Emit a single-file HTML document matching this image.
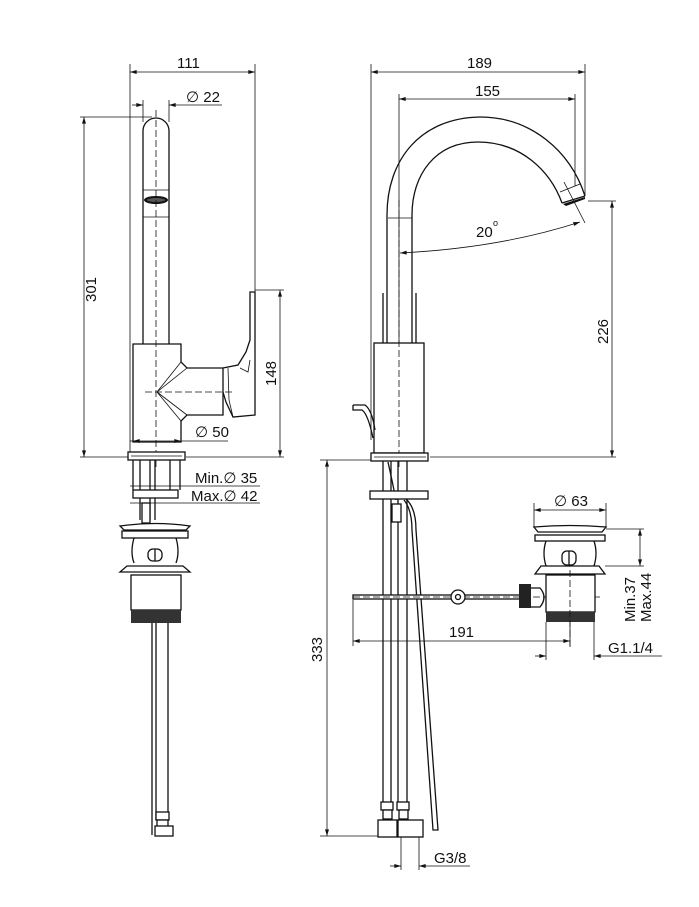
<!DOCTYPE html>
<html><head><meta charset="utf-8"><style>
html,body{margin:0;padding:0;background:#fff;}
svg{display:block}
text{font-family:"Liberation Sans",sans-serif;font-size:15px;fill:#111}
.l{stroke:#111;stroke-width:1.3;fill:none}
.t{stroke:#111;stroke-width:0.8;fill:none}
.d{stroke:#111;stroke-width:0.8;fill:none;stroke-dasharray:7 3}
.f{stroke:#111;stroke-width:1.3;fill:#fff}
</style></head><body>
<svg width="699" height="907" viewBox="0 0 699 907" xmlns="http://www.w3.org/2000/svg">
<defs>
<marker id="a" viewBox="0 0 10 6" refX="10" refY="3" markerWidth="9" markerHeight="5" orient="auto-start-reverse"><path d="M0,0 L10,3 L0,6 z" fill="#111"/></marker>
</defs>

<!-- ========== LEFT VIEW ========== -->
<line class="t" x1="130" y1="64" x2="130" y2="460"/>
<line class="t" x1="255" y1="64" x2="255" y2="292"/>
<line class="t" x1="130" y1="72" x2="255" y2="72" marker-start="url(#a)" marker-end="url(#a)"/>
<text x="177" y="68">111</text>
<line class="t" x1="143" y1="100" x2="143" y2="122"/>
<line class="t" x1="169" y1="100" x2="169" y2="122"/>
<line class="t" x1="132" y1="105" x2="143" y2="105" marker-end="url(#a)"/>
<line class="t" x1="169" y1="105" x2="222" y2="105" marker-start="url(#a)"/>
<text x="186" y="102">∅ 22</text>
<line class="t" x1="80" y1="117" x2="152" y2="117"/>
<line class="t" x1="80" y1="457" x2="130" y2="457"/>
<line class="t" x1="84" y1="117" x2="84" y2="457" marker-start="url(#a)" marker-end="url(#a)"/>
<text transform="translate(96,302) rotate(-90)">301</text>
<path class="l" d="M143,344 L143,131 A13,13 0 0 1 169,131 L169,344"/>
<line class="t" x1="143" y1="190" x2="169" y2="190"/>
<line class="t" x1="143" y1="217" x2="169" y2="217"/>
<ellipse cx="156" cy="200" rx="12" ry="4" fill="#111"/>
<ellipse cx="156" cy="200" rx="9" ry="2" fill="#555"/>
<line class="d" x1="156" y1="110" x2="156" y2="470"/>
<path class="l" d="M133,344 L181,344 L181,362 L187,368 L223,368 L223,415 L187,415 L181,421 L181,442 L133,442 Z"/>
<path class="t" d="M157,392 L181,362 M157,392 L187,368 M157,392 L181,421 M157,392 L187,415"/>
<line class="d" x1="145" y1="392" x2="232" y2="392"/>
<path class="l" d="M223,368 L238,365 L246,352 L250,340 L250,292 L255,292 L255,415 L233,417 L226,402 L223,392"/>
<path class="t" d="M228,368 L229,400 L233,417"/>
<path class="t" d="M240,368 L248,372 L250,360"/>
<line class="t" x1="255" y1="290" x2="284" y2="290"/>
<line class="t" x1="186" y1="457" x2="284" y2="457"/>
<line class="t" x1="280" y1="290" x2="280" y2="457" marker-start="url(#a)" marker-end="url(#a)"/>
<text transform="translate(276,386) rotate(-90)">148</text>
<line class="t" x1="130" y1="441" x2="133" y2="441"/>
<line class="t" x1="133" y1="441" x2="181" y2="441" marker-start="url(#a)" marker-end="url(#a)"/>
<line class="t" x1="181" y1="441" x2="228" y2="441"/>
<text x="195" y="437">∅ 50</text>
<rect class="f" x="128" y="452" width="57" height="8"/>
<line class="t" x1="131" y1="456" x2="182" y2="456"/>
<line class="l" x1="133" y1="460" x2="133" y2="490"/>
<line class="l" x1="180" y1="460" x2="180" y2="490"/>
<line class="l" x1="140" y1="460" x2="140" y2="520"/>
<line class="l" x1="150" y1="460" x2="150" y2="520"/>
<line class="l" x1="155" y1="460" x2="155" y2="520"/>
<line class="l" x1="170" y1="460" x2="170" y2="490"/>
<rect class="f" x="133" y="490" width="45" height="8"/>
<rect class="f" x="142" y="503" width="8" height="20"/>
<line class="t" x1="130" y1="486" x2="260" y2="486"/>
<line class="t" x1="130" y1="503" x2="260" y2="503"/>
<text x="195" y="483">Min.∅ 35</text>
<text x="191" y="501">Max.∅ 42</text>
<path class="f" d="M120,526 Q155,521 190,526 L186,530 L124,530 Z"/>
<rect class="f" x="122" y="531" width="66" height="7"/>
<path class="l" d="M134,538 Q130,552 134,563 M176,538 Q180,552 176,563"/>
<rect x="148" y="549" width="14" height="12" rx="5" class="l"/>
<line class="l" x1="155" y1="549" x2="155" y2="561"/>
<path class="f" d="M127,566 L183,566 L190,572 L120,572 Z"/>
<rect class="f" x="131" y="575" width="50" height="35"/>
<rect x="131" y="610" width="50" height="13" fill="#333"/>
<line class="l" x1="152" y1="623" x2="152" y2="835"/>
<line class="l" x1="156" y1="623" x2="156" y2="820"/>
<line class="l" x1="168" y1="623" x2="168" y2="820"/>
<rect class="f" x="156" y="812" width="13" height="8"/>
<rect class="f" x="157" y="820" width="11" height="8"/>
<rect class="f" x="155" y="826" width="18" height="10"/>

<!-- ========== RIGHT VIEW ========== -->
<line class="t" x1="371" y1="64" x2="371" y2="440"/>
<line class="t" x1="585" y1="64" x2="585" y2="196"/>
<line class="t" x1="371" y1="72" x2="585" y2="72" marker-start="url(#a)" marker-end="url(#a)"/>
<text x="467" y="68">189</text>
<line class="t" x1="399" y1="94" x2="399" y2="450"/>
<line class="t" x1="575" y1="94" x2="575" y2="186"/>
<line class="t" x1="399" y1="99" x2="575" y2="99" marker-start="url(#a)" marker-end="url(#a)"/>
<text x="475" y="96">155</text>
<path class="l" d="M387,343 L387,215 C387,160 420,118 480,117 C530,117 570,150 585,196"/>
<path class="l" d="M412,343 L412,215 C412,175 435,142 478,142 C520,142 550,170 562,203"/>
<path class="l" d="M562,203 L585,196"/>
<line class="t" x1="388" y1="218" x2="412" y2="218"/>
<line class="t" x1="560" y1="192" x2="580" y2="184"/>
<path d="M563,204 L585,197 L585,199 L566,206 Z" fill="#111"/>
<line class="t" x1="564" y1="182" x2="585" y2="223"/>
<path class="t" d="M400,253 Q500,248 580,222" marker-start="url(#a)" marker-end="url(#a)"/>
<text x="476" y="237">20</text><text x="493" y="226" style="font-size:9px">o</text>
<line class="t" x1="588" y1="201" x2="616" y2="201"/>
<line class="t" x1="430" y1="457" x2="616" y2="457"/>
<line class="t" x1="612" y1="201" x2="612" y2="457" marker-start="url(#a)" marker-end="url(#a)"/>
<text transform="translate(608,344) rotate(-90)">226</text>
<line class="l" x1="383" y1="293" x2="383" y2="343"/>
<line class="l" x1="416" y1="293" x2="416" y2="343"/>
<rect class="f" x="374" y="343" width="50" height="110"/>
<line class="d" x1="399" y1="200" x2="399" y2="470"/>
<path class="l" d="M353,405 L365,405 Q372,410 375,430 M353,405 L353,410 L362,410 Q368,414 373,438"/>
<rect class="f" x="371" y="453" width="57" height="8"/>
<line class="t" x1="374" y1="457" x2="426" y2="457"/>
<line class="t" x1="320" y1="460" x2="371" y2="460"/>
<line class="t" x1="320" y1="836" x2="380" y2="836"/>
<line class="t" x1="327" y1="460" x2="327" y2="836" marker-start="url(#a)" marker-end="url(#a)"/>
<text transform="translate(322,662) rotate(-90)">333</text>
<line class="l" x1="383" y1="461" x2="383" y2="805"/>
<line class="l" x1="391" y1="461" x2="391" y2="805"/>
<line class="l" x1="398" y1="461" x2="398" y2="805"/>
<line class="l" x1="407" y1="461" x2="407" y2="805"/>
<path class="l" d="M388,462 Q392,480 396,500"/>
<rect class="f" x="370" y="491" width="58" height="8"/>
<rect class="f" x="392" y="504" width="9" height="18"/>
<path class="l" d="M404,500 Q412,510 412,530 L433,830 L438,830 L416,530 Q416,508 406,499"/>
<rect class="f" x="381" y="802" width="12" height="8"/><rect class="f" x="397" y="802" width="12" height="8"/>
<rect class="f" x="383" y="810" width="9" height="9"/><rect class="f" x="399" y="810" width="9" height="9"/>
<rect class="f" x="378" y="820" width="19" height="17"/><rect class="f" x="398" y="820" width="25" height="17"/>
<line class="t" x1="401" y1="837" x2="401" y2="870"/>
<line class="t" x1="419" y1="837" x2="419" y2="870"/>
<line class="t" x1="390" y1="866" x2="401" y2="866" marker-end="url(#a)"/>
<line class="t" x1="419" y1="866" x2="470" y2="866" marker-start="url(#a)"/>
<text x="434" y="863">G3/8</text>
<rect class="f" x="353" y="595" width="167" height="4"/>
<line class="d" x1="353" y1="597" x2="600" y2="597"/>
<circle cx="458" cy="597" r="7" class="f"/><circle cx="458" cy="597" r="2.5" class="l"/>
<rect x="519" y="584" width="12" height="24" fill="#222"/>
<path class="l" d="M531,588 L540,588 Q548,597 540,607 L531,607"/>
<line class="t" x1="534" y1="503" x2="534" y2="528"/>
<line class="t" x1="606" y1="503" x2="606" y2="528"/>
<line class="t" x1="534" y1="510" x2="606" y2="510" marker-start="url(#a)" marker-end="url(#a)"/>
<text x="554" y="506">∅ 63</text>
<path class="f" d="M534,527 Q570,524 606,527 L602,532 L538,532 Z"/>
<rect class="f" x="535" y="535" width="70" height="6"/>
<path class="l" d="M546,541 Q542,553 546,566 M594,541 Q598,553 594,566"/>
<rect x="562" y="551" width="14" height="14" rx="5" class="l"/>
<line class="l" x1="569" y1="551" x2="569" y2="565"/>
<path class="f" d="M541,566 L599,566 L605,574 L535,574 Z"/>
<rect class="f" x="546" y="575" width="49" height="37"/>
<rect x="546" y="612" width="49" height="10" fill="#333"/>
<line class="d" x1="570" y1="570" x2="570" y2="650"/>
<line class="t" x1="606" y1="529" x2="644" y2="529"/>
<line class="t" x1="605" y1="566" x2="644" y2="566"/>
<line class="t" x1="640" y1="529" x2="640" y2="566" marker-start="url(#a)" marker-end="url(#a)"/>
<text transform="translate(635,622) rotate(-90)">Min.37</text>
<text transform="translate(651,622) rotate(-90)">Max.44</text>
<line class="t" x1="353" y1="600" x2="353" y2="646"/>
<line class="t" x1="570" y1="620" x2="570" y2="646"/>
<line class="t" x1="353" y1="641" x2="570" y2="641" marker-start="url(#a)" marker-end="url(#a)"/>
<text x="449" y="637">191</text>
<line class="t" x1="546" y1="622" x2="546" y2="660"/>
<line class="t" x1="594" y1="622" x2="594" y2="660"/>
<line class="t" x1="535" y1="656" x2="546" y2="656" marker-end="url(#a)"/>
<line class="t" x1="594" y1="656" x2="662" y2="656" marker-start="url(#a)"/>
<text x="608" y="653">G1.1/4</text>
</svg>
</body></html>
